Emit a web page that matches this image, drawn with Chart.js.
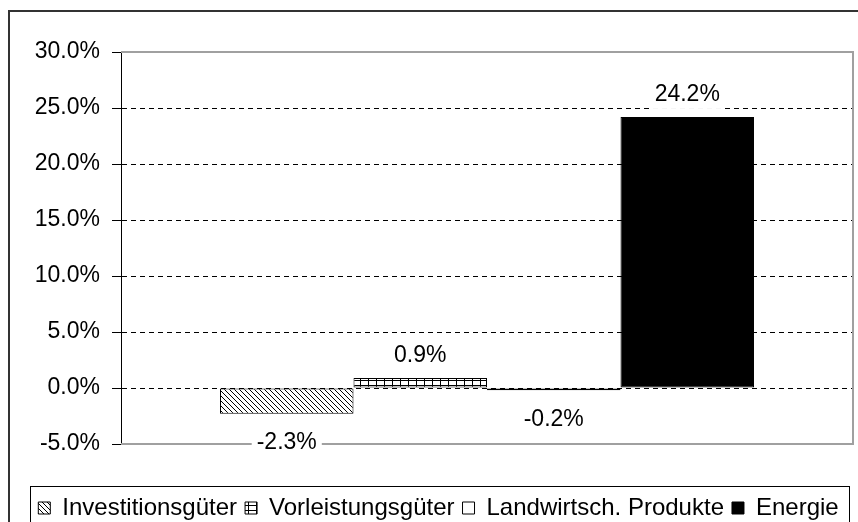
<!DOCTYPE html>
<html>
<head>
<meta charset="utf-8">
<script src="https://cdn.jsdelivr.net/npm/chart.js@4.4.0/dist/chart.umd.min.js"></script>
<style>
html, body { margin: 0; padding: 0; background: #fff; }
</style>
</head>
<body>
<canvas id="chart" width="858" height="522"></canvas>
<script>
// Daten
var serien = ["Investitionsgüter", "Vorleistungsgüter", "Landwirtsch. Produkte", "Energie"];
var werte = [-2.3, 0.9, -0.2, 24.2];
var yTicks = [-5, 0, 5, 10, 15, 20, 25, 30];

var schrift = '"Liberation Sans", Arial, sans-serif';

// Muster: schräg schraffiert
function musterSchraeg() {
  var c = document.createElement('canvas');
  c.width = 5; c.height = 5;
  var g = c.getContext('2d');
  g.fillStyle = '#fff'; g.fillRect(0, 0, 5, 5);
  g.fillStyle = '#000';
  for (var i = 0; i < 5; i++) g.fillRect(i, i, 1, 1);
  return g.createPattern(c, 'repeat');
}
// Muster: Karo
function musterKaro() {
  var c = document.createElement('canvas');
  c.width = 8; c.height = 5;
  var g = c.getContext('2d');
  g.fillStyle = '#fff'; g.fillRect(0, 0, 8, 5);
  g.fillStyle = '#000';
  g.fillRect(0, 0, 8, 1);
  g.fillRect(0, 0, 1, 5);
  return g.createPattern(c, 'repeat');
}
var fuellung = [musterSchraeg(), musterKaro(), '#ffffff', '#000000'];

// Rahmen + Plotbereich
var rahmen = {
  id: 'rahmen',
  beforeDraw: function(chart) {
    var ctx = chart.ctx;
    ctx.save();
    ctx.fillStyle = '#fff';
    ctx.fillRect(0, 0, chart.width, chart.height);
    ctx.strokeStyle = '#333';
    ctx.lineWidth = 2;
    ctx.strokeRect(9, 11, 900, 600);
    ctx.restore();
  },
  beforeDatasetsDraw: function(chart) {
    var a = chart.chartArea, ctx = chart.ctx;
    ctx.save();
    ctx.strokeStyle = '#a0a0a0';
    ctx.lineWidth = 2;
    ctx.beginPath();
    ctx.moveTo(a.left, a.top);
    ctx.lineTo(a.right, a.top);
    ctx.lineTo(a.right, a.bottom);
    ctx.lineTo(a.left, a.bottom);
    ctx.stroke();
    ctx.restore();
  },
  afterDraw: function(chart) {
    var lg = chart.legend, hb = lg.legendHitBoxes;
    if (!hb || !hb.length) return;
    var last = hb[hb.length - 1];
    var l = hb[0].left - 8;
    var r = last.left + last.width + 11;
    var ctx = chart.ctx;
    ctx.save();
    ctx.strokeStyle = '#000';
    ctx.lineWidth = 1;
    ctx.strokeRect(Math.round(l) + 0.5, Math.round(hb[0].top) - 9.5, Math.round(r - l), 100);
    ctx.restore();
  }
};

// Werte an den Balken
var wertLabels = {
  id: 'wertLabels',
  afterDatasetsDraw: function(chart) {
    var ctx = chart.ctx;
    ctx.save();
    ctx.font = '23px ' + schrift;
    ctx.textAlign = 'center';
    ctx.textBaseline = 'middle';
    chart.data.datasets.forEach(function(ds, i) {
      var bar = chart.getDatasetMeta(i).data[0];
      var v = ds.data[0];
      var txt = v.toFixed(1) + '%';
      var y = v >= 0 ? bar.y - 22 : bar.y + 29;
      var w = ctx.measureText(txt).width;
      ctx.fillStyle = '#fff';
      ctx.fillRect(bar.x - w / 2 - 5, y - 14, w + 10, 28);
      ctx.fillStyle = '#000';
      ctx.fillText(txt, bar.x, y);
    });
    ctx.restore();
  }
};

Chart.defaults.color = '#000';
Chart.defaults.font.family = schrift;

var ctx = document.getElementById('chart');
var myChart = new Chart(ctx, {
  type: 'bar',
  data: {
    labels: [''],
    datasets: serien.map(function(s, i) {
      return {
        label: s,
        data: [werte[i]],
        backgroundColor: fuellung[i],
        borderColor: '#000',
        borderWidth: 1,
        borderSkipped: false
      };
    })
  },
  options: {
    responsive: false,
    animation: false,
    layout: { padding: { left: 24, right: 5, top: 52, bottom: -8 } },
    datasets: { bar: { categoryPercentage: 0.7295, barPercentage: 1 } },
    plugins: {
      legend: {
        position: 'bottom',
        labels: { boxWidth: 12, boxHeight: 12, padding: 8, font: { size: 24 }, color: '#000' }
      },
      tooltip: { enabled: false }
    },
    scales: {
      x: {
        grid: { display: false },
        border: { display: false },
        ticks: { display: false },
        afterFit: function(s) { s.height = 44; }
      },
      y: {
        min: -5,
        max: 30,
        afterBuildTicks: function(s) {
          s.ticks = yTicks.map(function(v) { return { value: v }; });
        },
        afterFit: function(s) { s.width = 97; },
        ticks: {
          callback: function(v) { return v.toFixed(1) + '%'; },
          font: { size: 23 },
          color: '#000',
          padding: 12
        },
        grid: {
          color: function(c) {
            if (c.tick && (c.tick.value === 30 || c.tick.value === -5)) return 'rgba(0,0,0,0)';
            return '#000';
          },
          tickColor: '#000',
          tickLength: 9,
          tickBorderDash: []
        },
        border: { color: '#000', width: 1, dash: [5, 4] }
      }
    }
  },
  plugins: [rahmen, wertLabels]
});
</script>
</body>
</html>
